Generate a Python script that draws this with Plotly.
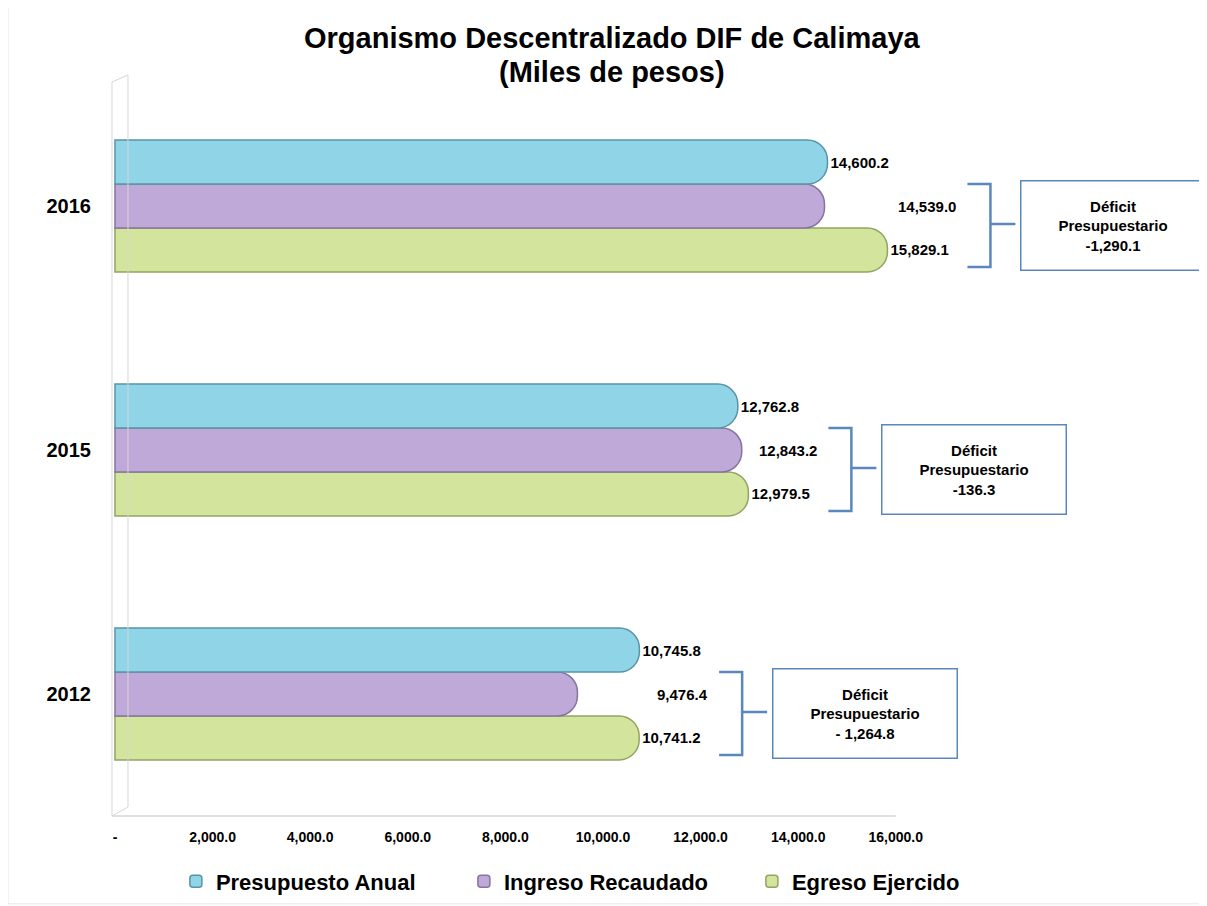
import plotly.graph_objects as go

years = ["2012", "2015", "2016"]
presupuesto = [10745.8, 12762.8, 14600.2]
ingreso = [9476.4, 12843.2, 14539.0]
egreso = [10741.2, 12979.5, 15829.1]
deficit_txt = ["- 1,264.8", "-136.3", "-1,290.1"]
xticks = [0, 2000, 4000, 6000, 8000, 10000, 12000, 14000, 16000]
xtick_txt = ["-", "2,000.0", "4,000.0", "6,000.0", "8,000.0", "10,000.0", "12,000.0", "14,000.0", "16,000.0"]

FONT = "Arial, Liberation Sans, sans-serif"
BRACKET = "#5b87bf"

fig = go.Figure()
# added bottom-to-top so Presupuesto sits on top of each group
series = [
    ("Egreso Ejercido", egreso, "#d3e49c", "#93a463", True),
    ("Ingreso Recaudado", ingreso, "#bea9d8", "#86749e", False),
    ("Presupuesto Anual", presupuesto, "#90d5e7", "#5894a6", True),
]
for name, vals, fill, edge, show_txt in series:
    fig.add_trace(go.Bar(
        y=years, x=vals, name=name, orientation="h",
        marker=dict(color=fill, line=dict(color=edge, width=1.5)),
        text=[f"{v:,.1f}" for v in vals] if show_txt else None,
        textposition="outside" if show_txt else "none",
        textfont=dict(family=FONT, size=15, color="black", weight="bold"),
        cliponaxis=False,
    ))

# purple labels are right-aligned with the green ones
for i, (ing, egr) in enumerate(zip(ingreso, egreso)):
    fig.add_annotation(x=egr, y=i, text=f"{ing:,.1f}", showarrow=False,
                       xanchor="right", xshift=71,
                       font=dict(family=FONT, size=15, color="black", weight="bold"))

# brackets + deficit boxes
for i, (egr, dtxt) in enumerate(zip(egreso, deficit_txt)):
    fig.add_shape(type="path", xref="x", yref="y", xsizemode="pixel", ysizemode="pixel",
                  xanchor=egr, yanchor=i,
                  path="M 80,22 L 103,22 L 103,-61 L 80,-61 M 103,-18 L 128,-18",
                  line=dict(color=BRACKET, width=2.5))
    fig.add_annotation(x=egr, y=i, xanchor="left", xshift=133, yanchor="middle", yshift=-19,
                       text=f"Déficit<br>Presupuestario<br>{dtxt}", showarrow=False,
                       width=183, height=88, borderpad=0, bordercolor=BRACKET, borderwidth=1.5,
                       bgcolor="white", align="center", valign="middle",
                       font=dict(family=FONT, size=15, color="black", weight="bold"))

# 3D-ish wall and floor
fig.add_shape(type="path", xref="x", yref="paper", xsizemode="pixel", ysizemode="pixel",
              xanchor=0, yanchor=0, path="M -3,0 L -3,734 L 13,741 L 13,9 Z",
              line=dict(color="#d6d6d6", width=1))
fig.add_shape(type="line", xref="x", yref="paper", x0=-60, x1=16000, y0=0, y1=0,
              line=dict(color="#d6d6d6", width=1.5))
# faint frame
fig.add_shape(type="rect", xref="paper", yref="paper", x0=-0.0836, x1=1.0036, y0=-0.12, y1=1.108,
              line=dict(color="#e6e6e6", width=1))

# title as two lines
for txt, yy in [("Organismo Descentralizado DIF de Calimaya", 1.0628), ("(Miles de pesos)", 1.016)]:
    fig.add_annotation(text=txt, xref="paper", yref="paper", x=0.4655, y=yy,
                       xanchor="center", yanchor="middle", showarrow=False,
                       font=dict(family=FONT, size=29, color="black", weight="bold"))

# page body adds an 8px offset, so margins are shifted up/left by 8
fig.update_layout(
    width=1207, height=906,
    margin=dict(l=92, r=15, t=76, b=98, autoexpand=False),
    paper_bgcolor="white", plot_bgcolor="white",
    barmode="group", bargap=0.46, bargroupgap=0, barcornerradius=20,
    showlegend=True,
    legend=dict(orientation="h", traceorder="reversed", xref="container", yref="container",
                x=0.497, xanchor="center", y=0.036, yanchor="middle",
                entrywidth=243, entrywidthmode="pixels",
                font=dict(family=FONT, size=22, color="black", weight="bold")),
)
fig.update_xaxes(range=[-307, 22234], tickvals=xticks, ticktext=xtick_txt, automargin=False,
                 showgrid=False, zeroline=False, showline=False, ticks="",
                 ticklabelstandoff=11,
                 tickfont=dict(family=FONT, size=14, color="black", weight="bold"))
fig.update_yaxes(type="category", categoryorder="array", categoryarray=years, automargin=False,
                 range=[-0.5, 2.5],
                 showgrid=False, zeroline=False, showline=False, ticks="",
                 ticklabelstandoff=8,
                 tickfont=dict(family=FONT, size=20, color="black", weight="bold"))

fig.write_html("out.html")
